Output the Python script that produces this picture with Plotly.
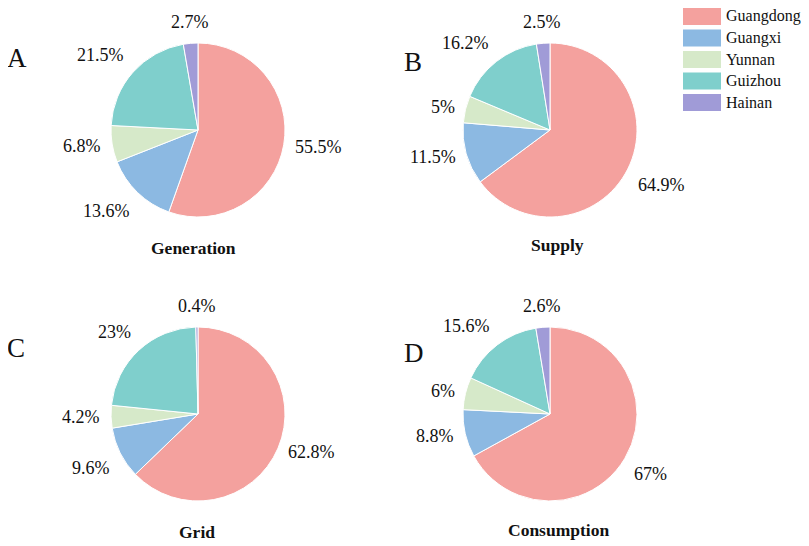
import math
import plotly.graph_objects as go

regions = ["Guangdong", "Guangxi", "Yunnan", "Guizhou", "Hainan"]
colors = ["#f4a19e", "#8cb9e2", "#d6e9c9", "#7fcfcc", "#a09bd7"]

generation = [55.5, 13.6, 6.8, 21.5, 2.7]
supply = [64.9, 11.5, 5, 16.2, 2.5]
grid = [62.8, 9.6, 4.2, 23, 0.4]
consumption = [67, 8.8, 6, 15.6, 2.6]

panels = [("A", "Generation", generation), ("B", "Supply", supply),
          ("C", "Grid", grid), ("D", "Consumption", consumption)]

W, H = 809, 546
OFF = 8  # page body margin shifts the figure
# layout in screen pixels (x from left, y from top)
centres = [(198, 130), (550, 130), (198, 414), (550, 414)]
title_pos = [(193, 248), (557, 245), (197, 532), (558, 530)]
letter_pos = [(5, 58), (402, 62), (5, 348), (402, 353)]
R = 87
GAP = 10
FONT = "Liberation Serif"
INK = "#111111"


def px(x):
    return (x - OFF) / W


def py(y):
    return 1 - (y - OFF) / H


fig = go.Figure()
for i, (letter, name, vals) in enumerate(panels):
    cx, cy = centres[i]
    fig.add_trace(go.Pie(
        labels=regions, values=vals, sort=False, direction="clockwise", rotation=0,
        marker=dict(colors=colors, line=dict(color="white", width=1)),
        textinfo="none", hoverinfo="label+value", showlegend=False,
        domain=dict(x=[px(cx - R), px(cx + R)], y=[py(cy + R), py(cy - R)]),
    ))
    # percentage labels just outside each slice, at its mid angle
    total = sum(vals)
    cum = 0
    for v in vals:
        th = 2 * math.pi * (cum + v / 2) / total
        cum += v
        s, c = math.sin(th), math.cos(th)
        lx, ly = cx + (R + GAP) * s, cy - (R + GAP) * c
        xa = "left" if s > 0.3 else ("right" if s < -0.3 else "center")
        ya = "bottom" if c > 0.4 else ("top" if c < -0.4 else "middle")
        fig.add_annotation(text=f"{v}%", x=px(lx), y=py(ly), xref="paper", yref="paper",
                           xanchor=xa, yanchor=ya, showarrow=False, borderpad=0,
                           font=dict(family=FONT, size=18, color=INK))
    tx, ty = title_pos[i]
    fig.add_annotation(text=f"<b>{name}</b>", x=px(tx), y=py(ty),
                       xref="paper", yref="paper", xanchor="center", yanchor="middle",
                       showarrow=False, font=dict(family=FONT, size=17.5, color=INK))
    lx, ly = letter_pos[i]
    fig.add_annotation(text=letter, x=px(lx), y=py(ly), xref="paper", yref="paper",
                       xanchor="left", yanchor="middle", showarrow=False,
                       font=dict(family=FONT, size=27, color=INK))

# legend as coloured boxes next to names
for k, (reg, col) in enumerate(zip(regions, colors)):
    top = 8 + k * 21.5
    fig.add_shape(type="rect", xref="paper", yref="paper",
                  x0=px(683), x1=px(721), y0=py(top + 17), y1=py(top),
                  fillcolor=col, line=dict(width=0))
    fig.add_annotation(text=reg, x=px(724), y=py(top + 8.5), xref="paper", yref="paper",
                       xanchor="left", yanchor="middle", showarrow=False,
                       font=dict(family=FONT, size=16, color=INK))

fig.update_layout(
    width=W, height=H, margin=dict(l=0, r=0, t=0, b=0),
    paper_bgcolor="white", plot_bgcolor="white", showlegend=False,
)
fig.write_html("out.html")
